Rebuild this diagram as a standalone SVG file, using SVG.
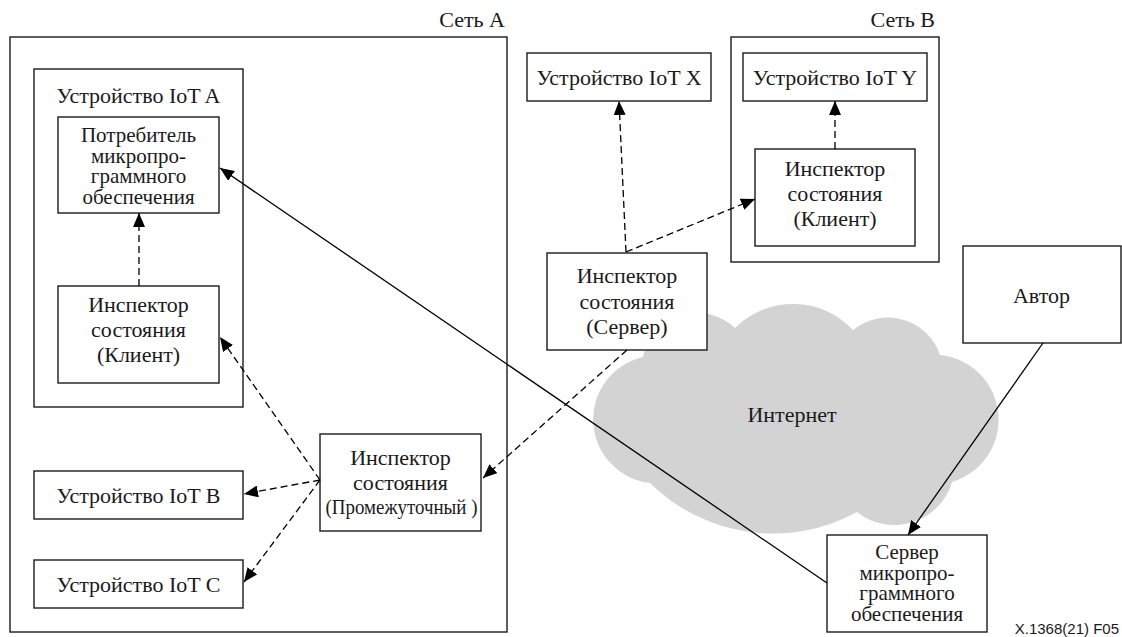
<svg xmlns="http://www.w3.org/2000/svg" width="1122" height="637" viewBox="0 0 1122 637">
<style>
.box{fill:#fff;stroke:#1a1a1a;stroke-width:1.4}
text{font-family:"Liberation Serif","DejaVu Serif",serif;font-size:22px;fill:#1a1a1a}
.t{text-anchor:middle}
.m{font-size:21px}
.te{text-anchor:end}
.foot{font-family:"Liberation Sans","DejaVu Sans",sans-serif;font-size:15px;text-anchor:end}
.dash{fill:none;stroke:#000;stroke-width:1.3;stroke-dasharray:7,4;marker-end:url(#ah)}
.solid{fill:none;stroke:#000;stroke-width:1.3;marker-end:url(#ah)}
</style>
<defs>
<marker id="ah" markerUnits="userSpaceOnUse" viewBox="0 0 14 12" markerWidth="14" markerHeight="12" refX="14" refY="6" orient="auto">
<path d="M0,0 L14,6 L0,12 z" fill="#000"/>
</marker>
</defs>
<rect width="1122" height="637" fill="#fff"/>

<g id="net-a">
<rect class="box" x="10" y="37" width="497" height="595"/>
<text class="te" x="505" y="27">Сеть A</text>
</g>
<g id="net-b">
<rect class="box" x="731" y="37" width="208" height="225"/>
<text class="te" x="935" y="27">Сеть B</text>
</g>

<g id="internet">
<path d="M643,357 A55,55 0 0,1 735,328 A82,82 0 0,1 853,330 A55,55 0 0,1 940,355 A65,65 0 0,1 952,482 A60,60 0 0,1 857,512 A175,175 0 0,1 650,483 A64,64 0 0,1 643,357 Z" fill="#d3d3d3"/>
<text class="t" x="792" y="422">Интернет</text>
</g>

<g id="iot-a">
<rect class="box" x="34" y="69" width="209" height="338"/>
<text class="t" x="138.5" y="103">Устройство IoT A</text>
</g>
<g id="consumer">
<rect class="box" x="58" y="117" width="161" height="96"/>
<text class="t m" x="138.5" y="142">Потребитель</text>
<text class="t m" x="138.5" y="162.5">микропро-</text>
<text class="t m" x="138.5" y="183">граммного</text>
<text class="t m" x="138.5" y="203.5">обеспечения</text>
</g>
<g id="client-a">
<rect class="box" x="58" y="286" width="161" height="97"/>
<text class="t" x="138.5" y="312">Инспектор</text>
<text class="t" x="138.5" y="337">состояния</text>
<text class="t" x="138.5" y="362">(Клиент)</text>
</g>
<g id="iot-b">
<rect class="box" x="34" y="471" width="209" height="48"/>
<text class="t" x="138.5" y="503">Устройство IoT B</text>
</g>
<g id="iot-c">
<rect class="box" x="34" y="560" width="209" height="48"/>
<text class="t" x="138.5" y="592">Устройство IoT C</text>
</g>
<g id="intermediate">
<rect class="box" x="320" y="434" width="161" height="97"/>
<text class="t" x="400.5" y="465">Инспектор</text>
<text class="t" x="400.5" y="490">состояния</text>
<text class="t" x="401.5" y="514" textLength="152" lengthAdjust="spacingAndGlyphs">(Промежуточный )</text>
</g>
<g id="iot-x">
<rect class="box" x="527" y="53" width="184" height="48"/>
<text class="t" x="619" y="85">Устройство IoT X</text>
</g>
<g id="server-inspector">
<rect class="box" x="547" y="253" width="160" height="97"/>
<text class="t" x="627" y="283">Инспектор</text>
<text class="t" x="627" y="309">состояния</text>
<text class="t" x="627" y="334">(Сервер)</text>
</g>
<g id="iot-y">
<rect class="box" x="743" y="53" width="184" height="48"/>
<text class="t" x="835" y="85">Устройство IoT Y</text>
</g>
<g id="client-b">
<rect class="box" x="755" y="149" width="160" height="97"/>
<text class="t" x="835" y="176">Инспектор</text>
<text class="t" x="835" y="201">состояния</text>
<text class="t" x="835" y="226">(Клиент)</text>
</g>
<g id="author">
<rect class="box" x="963" y="246" width="158" height="97"/>
<text class="t" x="1041.5" y="303">Автор</text>
</g>
<g id="fw-server">
<rect class="box" x="827" y="535" width="160" height="97"/>
<text class="t m" x="907" y="559">Сервер</text>
<text class="t m" x="907" y="579.5">микропро-</text>
<text class="t m" x="907" y="600">граммного</text>
<text class="t m" x="907" y="620.5">обеспечения</text>
</g>

<g id="connectors">
<line class="dash" x1="139" y1="286" x2="139" y2="213"/>
<line class="dash" x1="320" y1="480" x2="220" y2="337"/>
<line class="dash" x1="320" y1="480" x2="244" y2="494"/>
<line class="dash" x1="320" y1="480" x2="244" y2="582"/>
<line class="dash" x1="627" y1="350" x2="483" y2="478"/>
<line class="dash" x1="626" y1="252" x2="619" y2="101"/>
<line class="dash" x1="626" y1="252" x2="755" y2="199"/>
<line class="dash" x1="835" y1="149" x2="835" y2="101"/>
<line class="solid" x1="827" y1="583" x2="220" y2="168"/>
<line class="solid" x1="1043" y1="343" x2="908" y2="535"/>
</g>

<text class="foot" x="1119" y="634">X.1368(21)  F05</text>
</svg>
